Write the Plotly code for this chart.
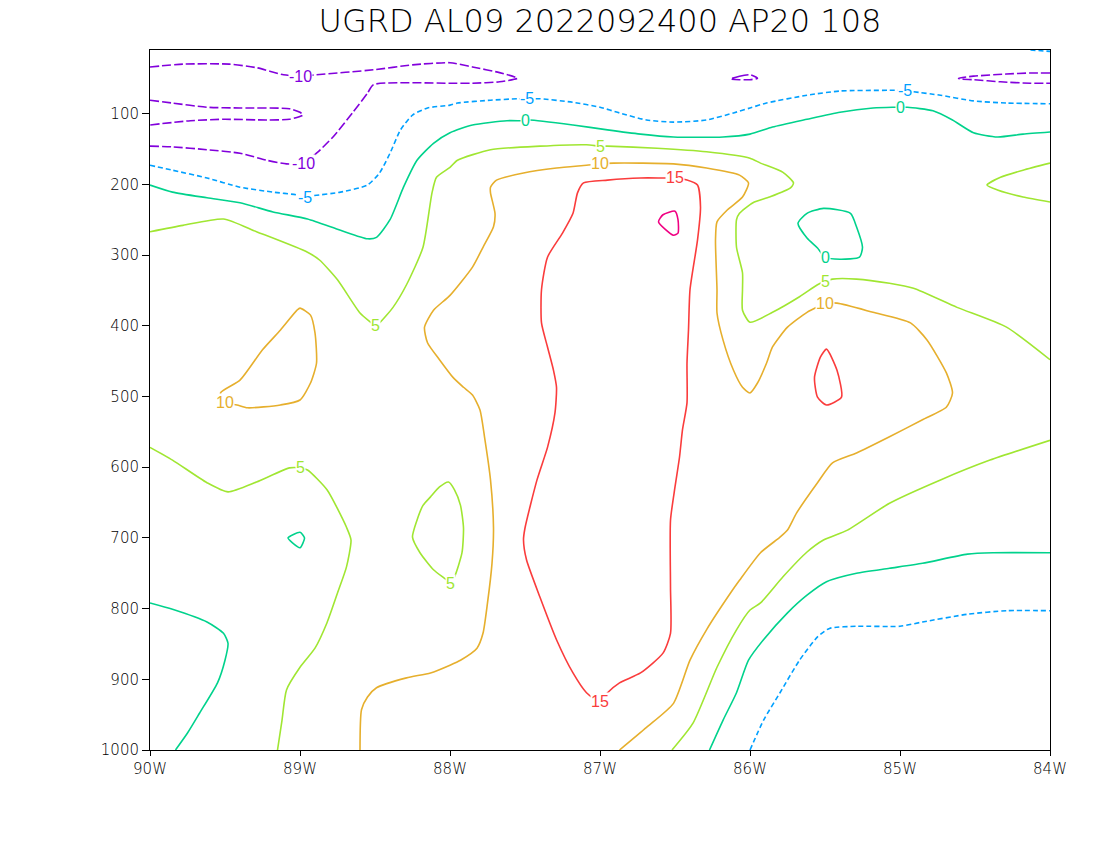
import plotly.graph_objects as go

# ---------------- contour levels / styles ----------------
levels = [-10, -5, 0, 5, 10, 15, 20]
level_colors = ["rgb(130,0,220)", "rgb(0,160,255)", "rgb(0,210,140)",
                "rgb(160,230,50)", "rgb(230,175,45)", "rgb(250,60,60)",
                "rgb(240,0,130)"]
level_dash = ["9px,3px", "5px,3px", "solid", "solid", "solid", "solid", "solid"]

# ---------------- axes ----------------
x_tick_vals = [-90, -89, -88, -87, -86, -85, -84]
x_tick_text = ["90W", "89W", "88W", "87W", "86W", "85W", "84W"]
y_tick_vals = [100, 200, 300, 400, 500, 600, 700, 800, 900, 1000]
y_tick_text = ["100", "200", "300", "400", "500", "600", "700", "800", "900", "1000"]

# ---------------- isolines: (longitude, pressure hPa) ----------------
neg10_upper = [(-90.00, 34), (-89.78, 30), (-89.47, 30), (-89.29, 35), (-89.11, 45), (-89.00, 47),
               (-88.89, 45), (-88.51, 38), (-88.25, 31), (-88.00, 28), (-87.85, 34), (-87.67, 42),
               (-87.55, 50), (-87.67, 55), (-87.85, 57), (-88.00, 57), (-88.51, 59), (-88.55, 71),
               (-88.65, 99), (-88.78, 133), (-88.89, 156), (-88.98, 170), (-89.09, 171), (-89.22, 166),
               (-89.40, 156), (-89.62, 151), (-89.85, 147), (-90.00, 146)]
neg10_left = [(-90.00, 81), (-89.85, 85), (-89.62, 91), (-89.40, 92), (-89.07, 93), (-89.00, 98),
              (-88.98, 102), (-89.07, 108), (-89.22, 109), (-89.51, 108), (-89.73, 110), (-90.00, 116)]
neg10_mid = [(-86.13, 51), (-86.07, 47), (-86.00, 45), (-85.95, 50), (-86.00, 52), (-86.07, 52), (-86.13, 51)]
neg10_right = [(-84.00, 42.5), (-84.13, 42.5), (-84.29, 44), (-84.51, 47), (-84.61, 50), (-84.60, 51),
               (-84.51, 52), (-84.33, 55), (-84.13, 57), (-84.00, 57)]

neg5_upper = [(-90.00, 173), (-89.85, 180), (-89.62, 191), (-89.40, 204), (-89.18, 211), (-89.02, 215),
              (-88.97, 218), (-88.91, 216), (-88.73, 211), (-88.55, 201), (-88.47, 184), (-88.40, 156),
              (-88.33, 123), (-88.25, 102), (-88.15, 92), (-88.00, 88), (-87.95, 85), (-87.73, 81),
              (-87.55, 79), (-87.49, 79), (-87.40, 79), (-87.18, 84), (-87.00, 91), (-86.87, 99),
              (-86.69, 109), (-86.51, 112), (-86.29, 109), (-86.11, 99), (-86.00, 92), (-85.89, 85),
              (-85.62, 74), (-85.40, 68), (-85.07, 67), (-84.97, 67), (-84.91, 69), (-84.73, 74),
              (-84.51, 82), (-84.29, 85), (-84.00, 86)]
neg5_lower = [(-86.00, 1000), (-85.91, 958), (-85.80, 919), (-85.67, 873), (-85.55, 840), (-85.47, 828),
              (-85.29, 825), (-85.00, 825), (-84.85, 819), (-84.55, 808), (-84.29, 803), (-84.00, 803)]
neg5_corner = [(-84.13, 10), (-84.00, 12)]

zero_upper = [(-90.00, 201), (-89.85, 211), (-89.62, 219), (-89.40, 226), (-89.18, 239), (-88.95, 249),
              (-88.73, 265), (-88.55, 277), (-88.49, 275), (-88.40, 250), (-88.31, 204), (-88.22, 166),
              (-88.11, 142), (-88.00, 127), (-87.85, 116), (-87.62, 110), (-87.50, 110), (-87.47, 109),
              (-87.18, 116), (-86.95, 123), (-86.73, 129), (-86.51, 133), (-86.18, 133), (-86.00, 129),
              (-85.85, 119), (-85.62, 108), (-85.40, 98), (-85.18, 92), (-85.05, 91), (-85.00, 91),
              (-84.95, 91), (-84.78, 96), (-84.65, 109), (-84.51, 127), (-84.35, 133), (-84.18, 129),
              (-84.00, 126)]
zero_loop = [(-85.51, 234), (-85.33, 241), (-85.29, 260), (-85.25, 289), (-85.27, 303), (-85.40, 306),
             (-85.50, 303), (-85.55, 290), (-85.62, 276), (-85.68, 255), (-85.62, 241), (-85.51, 234)]
zero_lowleft = [(-90.00, 792), (-89.85, 801), (-89.62, 819), (-89.51, 835), (-89.48, 849), (-89.50, 873),
                (-89.55, 905), (-89.67, 948), (-89.75, 976), (-89.83, 1000)]
zero_dot = [(-89.08, 700), (-89.00, 692), (-88.97, 700), (-89.00, 714), (-89.05, 707), (-89.08, 700)]
zero_lowright = [(-86.27, 1000), (-86.18, 958), (-86.09, 919), (-86.01, 873), (-85.91, 844), (-85.75, 806),
                 (-85.62, 781), (-85.49, 762), (-85.29, 750), (-85.07, 743), (-84.85, 736), (-84.55, 723),
                 (-84.38, 721), (-84.00, 721)]

five_upper = [(-90.00, 267), (-89.78, 258), (-89.51, 249), (-89.29, 267), (-88.95, 296), (-88.87, 307),
              (-88.75, 335), (-88.60, 382), (-88.53, 395), (-88.50, 400), (-88.47, 396), (-88.38, 374),
              (-88.29, 342), (-88.18, 289), (-88.12, 212), (-88.09, 190), (-88.00, 176), (-87.95, 166),
              (-87.73, 151), (-87.40, 146), (-87.09, 144), (-87.00, 146), (-86.95, 146), (-86.62, 149),
              (-86.29, 154), (-86.00, 163), (-85.93, 170), (-85.78, 183), (-85.71, 198), (-85.73, 205),
              (-85.87, 218), (-85.98, 226), (-86.07, 241), (-86.09, 250), (-86.09, 289), (-86.05, 325),
              (-86.05, 349), (-86.05, 378), (-86.00, 395), (-85.85, 381), (-85.67, 359), (-85.55, 342),
              (-85.50, 337), (-85.45, 334), (-85.29, 334), (-85.07, 340), (-84.91, 347), (-84.62, 374),
              (-84.29, 402), (-84.00, 448)]
five_right = [(-84.00, 170), (-84.18, 180), (-84.33, 190), (-84.42, 201), (-84.35, 208), (-84.18, 218),
              (-84.00, 225)]
five_lowleft = [(-90.00, 572), (-89.85, 590), (-89.62, 622), (-89.48, 635), (-89.29, 621), (-89.07, 601),
                (-89.00, 601), (-88.95, 604), (-88.82, 632), (-88.69, 685), (-88.66, 703), (-88.69, 741),
                (-88.75, 778), (-88.82, 820), (-88.90, 856), (-89.00, 883), (-89.09, 915), (-89.12, 958),
                (-89.15, 1000)]
five_loop = [(-88.01, 621), (-87.97, 632), (-87.93, 654), (-87.91, 686), (-87.92, 721), (-87.97, 755),
             (-88.00, 764), (-88.02, 760), (-88.11, 745), (-88.20, 721), (-88.25, 699), (-88.22, 675),
             (-88.18, 654), (-88.13, 642), (-88.07, 628), (-88.01, 621)]
five_lowright = [(-86.52, 1000), (-86.38, 962), (-86.22, 883), (-86.09, 830), (-86.00, 802), (-85.93, 792),
                 (-85.78, 755), (-85.62, 720), (-85.51, 703), (-85.35, 689), (-85.07, 651), (-84.73, 618),
                 (-84.40, 590), (-84.00, 562)]

ten_main = [(-88.60, 1000), (-88.59, 943), (-88.55, 925), (-88.49, 912), (-88.29, 898), (-88.13, 891),
            (-88.00, 880), (-87.93, 873), (-87.82, 856), (-87.78, 835), (-87.75, 792), (-87.72, 736),
            (-87.71, 686), (-87.73, 618), (-87.77, 557), (-87.80, 519), (-87.85, 498), (-87.91, 487),
            (-87.98, 473), (-88.07, 448), (-88.15, 424), (-88.17, 402), (-88.11, 378), (-88.00, 357),
            (-87.85, 317), (-87.78, 289), (-87.71, 260), (-87.70, 241), (-87.73, 212), (-87.73, 204),
            (-87.69, 194), (-87.51, 184), (-87.29, 177), (-87.09, 173), (-87.00, 171), (-86.91, 170),
            (-86.73, 170), (-86.51, 171), (-86.29, 177), (-86.07, 187), (-86.01, 198), (-86.05, 218),
            (-86.15, 236), (-86.22, 253), (-86.23, 279), (-86.22, 349), (-86.22, 382), (-86.18, 420),
            (-86.11, 463), (-86.05, 487), (-86.00, 495), (-85.95, 481), (-85.89, 453), (-85.85, 430),
            (-85.75, 402), (-85.62, 381), (-85.50, 369), (-85.42, 368), (-85.18, 381), (-84.93, 396),
            (-84.82, 420), (-84.69, 467), (-84.65, 495), (-84.69, 515), (-84.85, 533), (-85.07, 557),
            (-85.29, 580), (-85.45, 594), (-85.55, 622), (-85.69, 665), (-85.75, 689), (-85.80, 699),
            (-85.93, 721), (-86.07, 760), (-86.13, 778), (-86.29, 830), (-86.40, 873), (-86.51, 934),
            (-86.69, 968), (-86.87, 1000)]
ten_loop = [(-89.50, 509), (-89.53, 495), (-89.40, 477), (-89.25, 434), (-89.13, 406), (-89.02, 378),
            (-89.00, 375), (-88.93, 385), (-88.90, 410), (-88.89, 453), (-88.93, 481), (-89.00, 505),
            (-89.13, 512), (-89.35, 516), (-89.42, 512), (-89.50, 509)]

fifteen_main = [(-87.00, 932), (-86.95, 919), (-86.87, 905), (-86.73, 891), (-86.58, 863), (-86.53, 835),
                (-86.53, 770), (-86.53, 675), (-86.50, 628), (-86.47, 586), (-86.45, 547), (-86.42, 509),
                (-86.42, 453), (-86.41, 406), (-86.40, 349), (-86.35, 279), (-86.33, 232), (-86.35, 201),
                (-86.42, 194), (-86.50, 191), (-86.58, 191), (-86.73, 191), (-86.95, 194), (-87.11, 198),
                (-87.15, 212), (-87.18, 241), (-87.25, 269), (-87.35, 303), (-87.39, 349), (-87.39, 396),
                (-87.35, 430), (-87.31, 463), (-87.29, 487), (-87.30, 523), (-87.35, 572), (-87.42, 618),
                (-87.50, 686), (-87.51, 703), (-87.49, 731), (-87.40, 784), (-87.29, 844), (-87.18, 891),
                (-87.09, 919), (-87.00, 932)]
fifteen_loop = [(-85.49, 433), (-85.42, 463), (-85.39, 501), (-85.49, 512), (-85.55, 501), (-85.57, 473),
                (-85.53, 444), (-85.49, 433)]

twenty_loop = [(-86.50, 238), (-86.48, 250), (-86.48, 269), (-86.51, 272), (-86.61, 253), (-86.58, 243),
               (-86.50, 238)]

# contour labels
label_lon = [-89.00, -88.98, -88.97, -87.49, -84.97, -87.50, -85.00, -85.50, -88.50, -87.00,
             -85.50, -89.00, -88.00, -87.00, -85.50, -89.50, -86.50, -87.00]
label_p = [47, 170, 218, 79, 67, 110, 91, 303, 400, 146, 337, 601, 764, 171, 369, 509, 191, 932]
label_level = [-10, -10, -5, -5, -5, 0, 0, 0, 5, 5, 5, 5, 5, 10, 10, 10, 15, 15]

title_text = "UGRD AL09 2022092400 AP20 108"

isolines = [
    (-10, neg10_upper), (-10, neg10_left), (-10, neg10_mid), (-10, neg10_right),
    (-5, neg5_upper), (-5, neg5_lower), (-5, neg5_corner),
    (0, zero_upper), (0, zero_loop), (0, zero_lowleft), (0, zero_dot), (0, zero_lowright),
    (5, five_upper), (5, five_right), (5, five_lowleft), (5, five_loop), (5, five_lowright),
    (10, ten_main), (10, ten_loop),
    (15, fifteen_main), (15, fifteen_loop),
    (20, twenty_loop),
]

fig = go.Figure()
for lev, pts in isolines:
    i = levels.index(lev)
    fig.add_trace(go.Scatter(
        x=[q[0] for q in pts], y=[q[1] for q in pts], mode="lines",
        line=dict(color=level_colors[i], width=1.6, dash=level_dash[i],
                  shape="spline", smoothing=0.6),
        hoverinfo="skip", showlegend=False))

for lon, p, lev in zip(label_lon, label_p, label_level):
    i = levels.index(lev)
    fig.add_annotation(x=lon, y=p, xref="x", yref="y", text=str(lev), showarrow=False,
                       xanchor="center", yanchor="middle", bgcolor="white", borderpad=0,
                       font=dict(family="Liberation Sans", size=16, color=level_colors[i]))

thin_family = "DejaVu Sans ExtraLight, DejaVu Sans Light, DejaVu Sans"
thin = dict(family=thin_family, size=15, color="black", weight=200)
fig.update_layout(
    width=1100, height=850,
    margin=dict(l=150, r=50, t=50, b=100),
    paper_bgcolor="white", plot_bgcolor="white",
    title=dict(text=title_text, x=0.5, xref="paper", xanchor="center",
               y=1 - 21 / 850, yref="container", yanchor="middle",
               font=dict(family=thin_family, size=32, color="black", weight=200)),
    xaxis=dict(range=[-90, -84], tickvals=x_tick_vals, ticktext=x_tick_text,
               ticks="outside", ticklen=5, tickcolor="black", tickwidth=1,
               showline=True, linecolor="black", linewidth=1, mirror=True,
               showgrid=False, zeroline=False, tickfont=thin),
    yaxis=dict(range=[1000, 10], tickvals=y_tick_vals, ticktext=y_tick_text,
               ticks="outside", ticklen=7, tickcolor="black", tickwidth=1,
               showline=True, linecolor="black", linewidth=1, mirror=True,
               showgrid=False, zeroline=False, tickfont=thin),
)

fig.write_html("out.html", config={"displayModeBar": False},
               post_script="document.body.style.margin='0px';")
